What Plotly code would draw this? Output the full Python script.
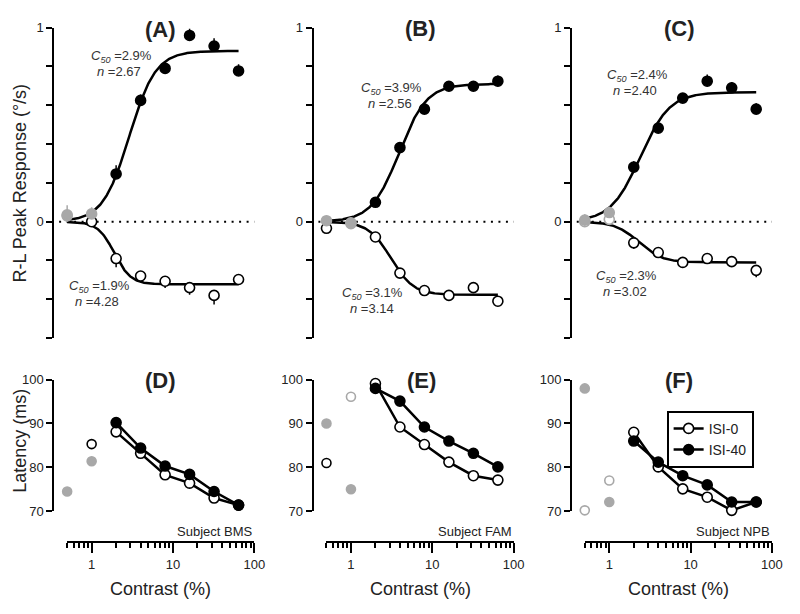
import numpy as np
import plotly.graph_objects as go

# ---------------- data ----------------
contrast = [0.5, 1, 2, 4, 8, 16, 32, 64]
panels_top = ["(A)", "(B)", "(C)"]
panels_bot = ["(D)", "(E)", "(F)"]
subjects = ["Subject BMS", "Subject FAM", "Subject NPB"]

# R-L peak response (deg/s), ISI-40 (filled) and ISI-0 (open)
A_isi40 = [0.035, 0.04, 0.246, 0.625, 0.79, 0.96, 0.905, 0.777]
A_isi40_err = [0.05, 0.035, 0.045, 0.03, 0.025, 0.035, 0.04, 0.035]
A_isi40_sty = ["g", "g", "k", "k", "k", "k", "k", "k"]
A_isi0 = [0.03, 0.0, -0.19, -0.28, -0.307, -0.34, -0.38, -0.298]
A_isi0_err = [0.03, 0.02, 0.045, 0.02, 0.035, 0.037, 0.047, 0.025]
A_isi0_sty = ["g", "k", "k", "k", "k", "k", "k", "k"]

B_isi40 = [0.005, -0.006, 0.10, 0.382, 0.58, 0.698, 0.698, 0.724]
B_isi40_err = [0.02, 0.02, 0.02, 0.025, 0.025, 0.025, 0.025, 0.03]
B_isi40_sty = ["g", "g", "k", "k", "k", "k", "k", "k"]
B_isi0 = [-0.034, -0.01, -0.079, -0.265, -0.355, -0.38, -0.34, -0.41]
B_isi0_err = [0.02, 0.02, 0.02, 0.02, 0.02, 0.02, 0.02, 0.02]
B_isi0_sty = ["k", "g", "k", "k", "k", "k", "k", "k"]

C_isi40 = [0.008, 0.047, 0.281, 0.482, 0.637, 0.724, 0.69, 0.58]
C_isi40_err = [0.03, 0.03, 0.03, 0.03, 0.025, 0.035, 0.03, 0.03]
C_isi40_sty = ["g", "g", "k", "k", "k", "k", "k", "k"]
C_isi0 = [0.0, 0.012, -0.109, -0.159, -0.21, -0.19, -0.206, -0.251]
C_isi0_err = [0.02, 0.02, 0.03, 0.025, 0.025, 0.02, 0.025, 0.035]
C_isi0_sty = ["g", "g", "k", "k", "k", "k", "k", "k"]

# Hill fit parameters: (C50 %, n, Rmax)
A_fit40 = (2.9, 2.67, 0.88)
A_fit0 = (1.9, 4.28, -0.323)
B_fit40 = (3.9, 2.56, 0.71)
B_fit0 = (3.1, 3.14, -0.377)
C_fit40 = (2.4, 2.40, 0.667)
C_fit0 = (2.3, 3.02, -0.21)

# Latency (ms)
D_isi0 = [None, 85.3, 88.1, 83.2, 78.3, 76.4, 73.0, 71.4]
D_isi0_sty = [None, "k", "k", "k", "k", "k", "k", "k"]
D_isi40 = [74.5, 81.4, 90.2, 84.4, 80.3, 78.4, 74.5, 71.4]
D_isi40_sty = ["g", "g", "k", "k", "k", "k", "k", "k"]
E_isi0 = [81.0, 96.1, 99.1, 89.2, 85.2, 81.2, 78.1, 77.1]
E_isi0_sty = ["k", "g", "k", "k", "k", "k", "k", "k"]
E_isi40 = [90.0, 75.0, 98.0, 95.1, 89.2, 86.0, 83.2, 80.1]
E_isi40_sty = ["g", "g", "k", "k", "k", "k", "k", "k"]
F_isi0 = [70.2, 77.0, 88.0, 80.1, 75.1, 73.2, 70.2, 72.1]
F_isi0_sty = ["g", "g", "k", "k", "k", "k", "k", "k"]
F_isi40 = [98.0, 72.1, 86.0, 81.2, 78.1, 76.0, 72.1, 72.1]
F_isi40_sty = ["g", "g", "k", "k", "k", "k", "k", "k"]

top_data = [
    (A_isi40, A_isi40_err, A_isi40_sty, A_isi0, A_isi0_err, A_isi0_sty, A_fit40, A_fit0),
    (B_isi40, B_isi40_err, B_isi40_sty, B_isi0, B_isi0_err, B_isi0_sty, B_fit40, B_fit0),
    (C_isi40, C_isi40_err, C_isi40_sty, C_isi0, C_isi0_err, C_isi0_sty, C_fit40, C_fit0),
]
bot_data = [
    (D_isi0, D_isi0_sty, D_isi40, D_isi40_sty),
    (E_isi0, E_isi0_sty, E_isi40, E_isi40_sty),
    (F_isi0, F_isi0_sty, F_isi40, F_isi40_sty),
]

top_ylabeled = [0, 1]
top_yminor = [-0.6, -0.4, -0.2, 0.2, 0.4, 0.6, 0.8]
bot_yticks = [70, 80, 90, 100]
x_major = [1, 10, 100]
x_minor = [0.5, 0.6, 0.7, 0.8, 0.9, 2, 3, 4, 5, 6, 7, 8, 9, 20, 30, 40, 50, 60, 70, 80, 90]

# ---------------- layout geometry (page pixels) ----------------
PAGE_W, PAGE_H = 800, 614
BODY_MARGIN = 8                      # default <body> margin of the html page
W, H = PAGE_W - 2 * BODY_MARGIN, PAGE_H - 2 * BODY_MARGIN
GRAY = "#a8a8a8"
TXT = "#222222"
FONT = "Liberation Sans, Arial, sans-serif"
DEC = 82.5
axis_px = [54, 317, 579]
x0_px = [68, 331, 593]
fit_lab = [
    [(123, 51), (121, 66), (101, 286), (98, 302)],
    [(397, 83), (395, 99), (378, 294), (377, 309)],
    [(646, 70), (644, 85), (635, 276), (634, 292)],
]
title_top_px = [(163, 23), (426, 22), (689, 22)]
title_bot_px = [(163, 383), (427, 383), (689, 383)]


def fx(p):
    return (p - BODY_MARGIN) / W


def fy(p):
    return 1 - (p - BODY_MARGIN) / H


def ax_id(letter, k):
    return letter if k == 1 else f"{letter}{k}"


fig = go.Figure()


def hill(c, p):
    c50, n, rmax = p
    c = np.asarray(c, dtype=float)
    return rmax * c ** n / (c ** n + c50 ** n)


def add_points(xs, ys, styles, filled, xa, ya, errs=None, up=True, size=10):
    for st in ["g", "k"]:
        idx = [i for i, s in enumerate(styles) if s == st and ys[i] is not None]
        if not idx:
            continue
        col = GRAY if st == "g" else "black"
        fill = col if filled else "white"
        kw = {}
        if errs is not None:
            e = [errs[i] for i in idx]
            z = [0] * len(idx)
            kw["error_y"] = dict(type="data", symmetric=False,
                                 array=e if up else z, arrayminus=z if up else e,
                                 color=col, thickness=1.5, width=0)
        fig.add_trace(go.Scatter(
            x=[xs[i] for i in idx], y=[ys[i] for i in idx], mode="markers",
            marker=dict(size=size, color=fill, line=dict(color=col, width=1.6)),
            xaxis=xa, yaxis=ya, showlegend=False, cliponaxis=False, hoverinfo="skip", **kw))


grid = np.logspace(np.log10(contrast[0]), np.log10(contrast[-1]), 300)

for i in range(3):
    xa, ya = ax_id("x", i + 1), ax_id("y", i + 1)
    v40, e40, s40, v0, e0, s0, f40, f0 = top_data[i]
    for p in (f40, f0):
        fig.add_trace(go.Scatter(x=grid, y=hill(grid, p), mode="lines",
                                 line=dict(color="black", width=2.5),
                                 xaxis=xa, yaxis=ya, showlegend=False, hoverinfo="skip"))
    add_points(contrast, v0, s0, False, xa, ya, errs=e0, up=False)
    add_points(contrast, v40, s40, True, xa, ya, errs=e40, up=True)

    xb, yb = ax_id("x", i + 4), ax_id("y", i + 4)
    l0, ls0, l40, ls40 = bot_data[i]
    add_points(contrast[:2], l0[:2], ls0[:2], False, xb, yb, size=9)
    add_points(contrast[:2], l40[:2], ls40[:2], True, xb, yb, size=9)
    fig.add_trace(go.Scatter(
        x=contrast[2:], y=l0[2:], mode="lines+markers", name="ISI-0",
        line=dict(color="black", width=2.5),
        marker=dict(size=10, color="white", line=dict(color="black", width=1.6)),
        xaxis=xb, yaxis=yb, showlegend=(i == 2), cliponaxis=False, hoverinfo="skip"))
    fig.add_trace(go.Scatter(
        x=contrast[2:], y=l40[2:], mode="lines+markers", name="ISI-40",
        line=dict(color="black", width=2.5),
        marker=dict(size=10, color="black", line=dict(color="black", width=1.6)),
        xaxis=xb, yaxis=yb, showlegend=(i == 2), cliponaxis=False, hoverinfo="skip"))

layout = dict(
    width=W, height=H, autosize=False,
    margin=dict(l=0, r=0, t=0, b=0),
    paper_bgcolor="white", plot_bgcolor="white",
    font=dict(family=FONT, color=TXT, size=13),
    legend=dict(x=fx(676), y=fy(414), xanchor="left", yanchor="top",
                bordercolor="black", borderwidth=2, bgcolor="white",
                font=dict(size=14, color=TXT), tracegroupgap=0),
    shapes=[], annotations=[],
)

lo = np.log10(contrast[0])
for i in range(3):
    x0 = x0_px[i]
    xr = x0 + (2 - lo) * DEC
    xl_top = x0 - (lo + 0.4) * DEC
    axline = dict(showline=True, linewidth=2, linecolor="black", showgrid=False,
                  zeroline=False, ticks="outside", tickwidth=1.5, tickcolor="black")
    layout[f"xaxis{i+1}"] = dict(domain=[fx(xl_top), fx(xr)], type="log", range=[-0.4, 2],
                                 visible=False, anchor=ax_id("y", i + 1))
    layout[f"yaxis{i+1}"] = dict(domain=[fy(339.4), fy(21)], range=[-0.6, 1],
                                 anchor="free", position=fx(axis_px[i]),
                                 tickvals=top_ylabeled, ticklen=6,
                                 minor=dict(tickvals=top_yminor, ticks="outside", ticklen=6,
                                            tickwidth=1.5, tickcolor="black"),
                                 tickfont=dict(size=13, color=TXT), **axline)
    layout[f"xaxis{i+4}"] = dict(domain=[fx(x0), fx(xr)], type="log", range=[lo, 2],
                                 anchor="free", position=fy(549),
                                 tickvals=x_major, ticktext=[str(v) for v in x_major],
                                 ticklen=10, tickfont=dict(size=13, color=TXT),
                                 minor=dict(tickvals=x_minor, ticks="outside", ticklen=5,
                                            tickwidth=1.5, tickcolor="black"),
                                 **axline)
    layout[f"yaxis{i+4}"] = dict(domain=[fy(517), fy(382)], range=[70, 100],
                                 anchor="free", position=fx(axis_px[i]),
                                 tickvals=bot_yticks, ticklen=6,
                                 tickfont=dict(size=13, color=TXT), **axline)
    layout["shapes"].append(dict(type="line", xref=ax_id("x", i + 1) + " domain", x0=0, x1=1,
                                 yref=ax_id("y", i + 1), y0=0, y1=0, layer="below",
                                 line=dict(color="black", width=2, dash="2px,5.5px")))
    for (tx, ty), t in ((title_top_px[i], panels_top[i]), (title_bot_px[i], panels_bot[i])):
        layout["annotations"].append(dict(x=fx(tx), y=fy(ty), xref="paper", yref="paper",
                                          text=f"<b>{t}</b>", showarrow=False,
                                          xanchor="center", yanchor="middle",
                                          font=dict(size=22, color=TXT)))
    _, _, _, _, _, _, f40, f0 = top_data[i]
    labs = fit_lab[i]
    for (p, (c1, c2)) in ((f40, (labs[0], labs[1])), (f0, (labs[2], labs[3]))):
        layout["annotations"].append(dict(x=fx(c1[0]), y=fy(c1[1]), xref="paper", yref="paper",
                                          text=f"<i>C<sub>50</sub></i> ={p[0]:.1f}%",
                                          showarrow=False, xanchor="center", yanchor="middle",
                                          font=dict(size=13, color="#333")))
        layout["annotations"].append(dict(x=fx(c2[0]), y=fy(c2[1]), xref="paper", yref="paper",
                                          text=f"<i>n</i> ={p[1]:.2f}",
                                          showarrow=False, xanchor="center", yanchor="middle",
                                          font=dict(size=13, color="#333")))
    layout["annotations"].append(dict(x=fx(xr), y=fy(538), xref="paper", yref="paper",
                                      text=subjects[i], showarrow=False, xanchor="right",
                                      yanchor="middle", font=dict(size=13, color=TXT)))
    layout["annotations"].append(dict(x=fx(x0 + 95), y=fy(597), xref="paper", yref="paper",
                                      text="Contrast (%)", showarrow=False, xanchor="center",
                                      yanchor="middle", font=dict(size=18, color=TXT)))

layout["annotations"].append(dict(x=fx(20), y=fy(180), xref="paper", yref="paper",
                                  text="R-L Peak Response (°/s)", textangle=-90, showarrow=False,
                                  xanchor="center", yanchor="middle", font=dict(size=18, color=TXT)))
layout["annotations"].append(dict(x=fx(20), y=fy(445), xref="paper", yref="paper",
                                  text="Latency (ms)", textangle=-90, showarrow=False,
                                  xanchor="center", yanchor="middle", font=dict(size=18, color=TXT)))

fig.update_layout(**layout)
fig.write_html("out.html")
